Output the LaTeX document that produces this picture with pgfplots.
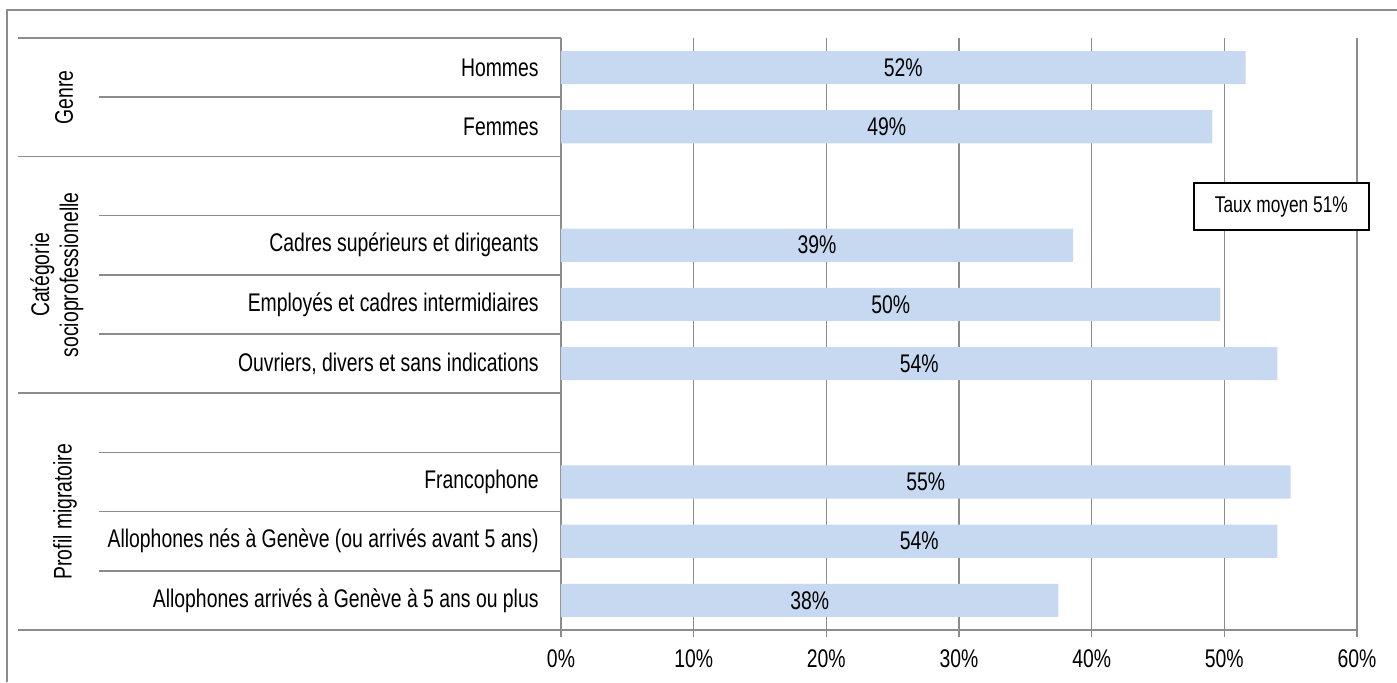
\documentclass[border=0pt]{standalone}
\usepackage{fontspec}
\setmainfont{Liberation Sans}[FakeStretch=0.76]
\usepackage{pgfplots}
\pgfplotsset{compat=1.18}
\usepackage{pgfplotstable}
\usetikzlibrary{calc}
\definecolor{barblue}{HTML}{C6D9F0}
\definecolor{gridgray}{HTML}{8C8C8C}
\pgfplotstableread{
y v lab
9 51.6 52
8 49.1 49
6 38.6 39
5 49.7 50
4 54.0 54
2 55.0 55
1 54.0 54
0 37.5 38
}\data
\begin{document}
\begin{tikzpicture}[font=\fontsize{12.75pt}{14.5pt}\selectfont]
\path[use as bounding box] (-280.5pt,-26pt) rectangle (418pt,315pt);
\begin{axis}[
  at={(0,0)}, anchor=south west,
  scale only axis, width=398pt, height=296pt,
  xmin=0, xmax=60, ymin=-0.5, ymax=9.5,
  xbar, bar width=0.56,
  axis x line*=bottom, axis y line*=left,
  x axis line style={-, draw=gridgray, line width=0.75pt},
  y axis line style={-, draw=gridgray, line width=0.75pt},
  xtick={0,10,...,60},
  xticklabel={\pgfmathprintnumber{\tick}\%},
  /pgf/number format/assume math mode=true,
  tick align=outside,
  major tick length=3.5pt,
  xtick style={draw=gridgray, line width=0.75pt},
  xmajorgrids, grid style={draw=gridgray, line width=0.75pt},
  ytick={0,1,2,4,5,6,8,9},
  yticklabels={Allophones arrivés à Genève à 5 ans ou plus,
    Allophones nés à Genève (ou arrivés avant 5 ans),
    Francophone,
    {Ouvriers, divers et sans indications},
    Employés et cadres intermidiaires,
    Cadres supérieurs et dirigeants,
    Femmes, Hommes},
  ytick style={draw=none},
  yticklabel style={inner sep=0pt, xshift=-7.5pt},
  xticklabel style={yshift=-3pt},
  clip=false,
]
\addplot[fill=barblue, draw=none] table[x=v, y=y] {\data};
\addplot[draw=none, mark=none, xbar=0pt, forget plot,
  nodes near coords={\pgfplotspointmeta\%},
  point meta=explicit symbolic,
  every node near coord/.style={anchor=center, inner sep=0pt},
] table[x expr=\thisrow{v}/2, y=y, meta=lab] {\data};
% table lines
\draw[gridgray, line width=0.75pt] (axis cs:0,9.5) -- ++(-271.5pt,0pt);
\draw[gridgray, line width=0.75pt] (axis cs:0,7.5) -- ++(-271.5pt,0pt);
\draw[gridgray, line width=0.75pt] (axis cs:0,3.5) -- ++(-271.5pt,0pt);
\draw[gridgray, line width=0.75pt] (axis cs:0,-0.5) -- ++(-271.5pt,0pt);
\draw[gridgray, line width=0.75pt] (axis cs:0,8.5) -- ++(-231pt,0pt);
\draw[gridgray, line width=0.75pt] (axis cs:0,6.5) -- ++(-231pt,0pt);
\draw[gridgray, line width=0.75pt] (axis cs:0,5.5) -- ++(-231pt,0pt);
\draw[gridgray, line width=0.75pt] (axis cs:0,4.5) -- ++(-231pt,0pt);
\draw[gridgray, line width=0.75pt] (axis cs:0,2.5) -- ++(-231pt,0pt);
\draw[gridgray, line width=0.75pt] (axis cs:0,1.5) -- ++(-231pt,0pt);
\draw[gridgray, line width=0.75pt] (axis cs:0,0.5) -- ++(-231pt,0pt);
% group labels
\node[rotate=90, anchor=center] at ($(axis cs:0,8.5)+(-248.5pt,0pt)$) {Genre};
\node[rotate=90, anchor=center, align=center] at ($(axis cs:0,5.5)+(-252pt,0pt)$) {Catégorie\\socioprofessionelle};
\node[rotate=90, anchor=center] at ($(axis cs:0,1.5)+(-248pt,0pt)$) {Profil migratoire};
% average box
\node[draw=black, line width=0.75pt, fill=white, minimum width=87.5pt, minimum height=23.5pt,
  font=\fontsize{11.4pt}{13pt}\selectfont] at (axis cs:54.3,6.65) {Taux moyen 51\%};
\end{axis}
% outer frame
\draw[gridgray, line width=1pt] (-277pt,-26pt) -- (-277pt,310pt) -- (418pt,310pt);
\end{tikzpicture}
\end{document}
